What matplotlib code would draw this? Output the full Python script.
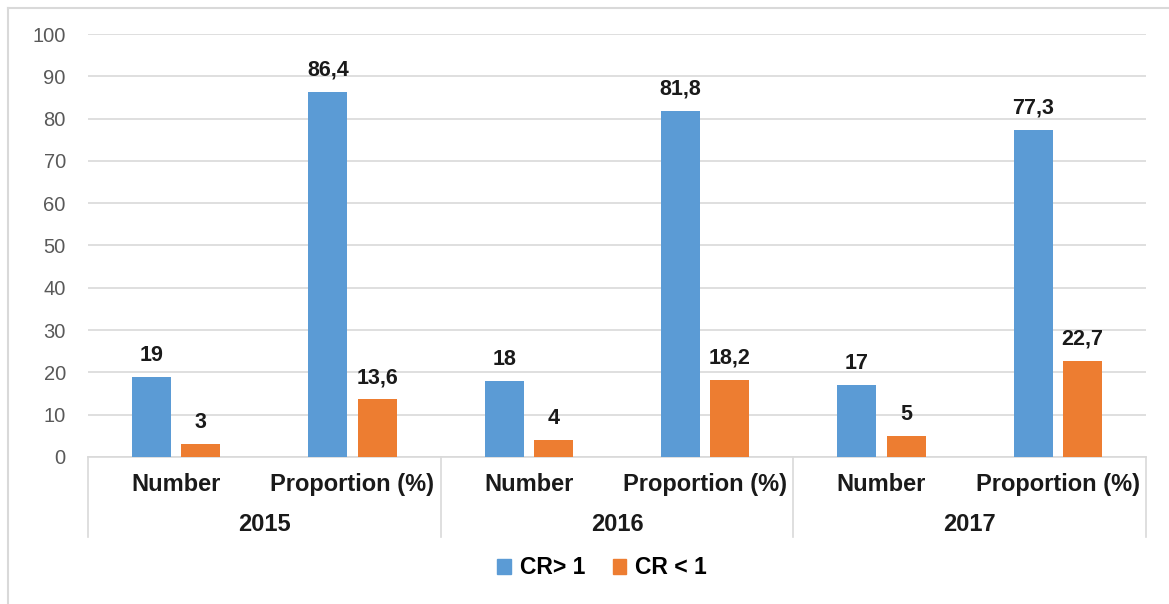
import matplotlib
matplotlib.use('Agg')
import matplotlib.pyplot as plt
from matplotlib.lines import Line2D
from matplotlib.patches import Patch

plt.rcParams['font.family'] = ['Liberation Sans', 'DejaVu Sans']

years = ['2015', '2016', '2017']
measures = ['Number', 'Proportion (%)']
cr_above = [19, 86.4, 18, 81.8, 17, 77.3]
cr_below = [3, 13.6, 4, 18.2, 5, 22.7]
series_names = ['CR> 1', 'CR < 1']

BLUE = '#5B9BD5'
ORANGE = '#ED7D31'
GRID = '#D9D9D9'


def lab(v):
    return ('%g' % v).replace('.', ',')


W, H = 1169, 604
fig = plt.figure(figsize=(W / 100, H / 100), dpi=100)
ax = fig.add_axes([88 / W, 147 / H, (1146 - 88) / W, 423 / H])

x = list(range(len(cr_above)))
bw = 0.222
off = 0.14
b1 = ax.bar([i - off for i in x], cr_above, bw, color=BLUE, zorder=3)
b2 = ax.bar([i + off for i in x], cr_below, bw, color=ORANGE, zorder=3)
ax.bar_label(b1, labels=[lab(v) for v in cr_above], padding=8,
             fontsize=15.5, fontweight='bold', color='#1a1a1a')
ax.bar_label(b2, labels=[lab(v) for v in cr_below], padding=8,
             fontsize=15.5, fontweight='bold', color='#1a1a1a')

ax.set_xlim(-0.5, len(x) - 0.5)
ax.set_ylim(0, 100)
ax.set_yticks(range(0, 101, 10))
ax.tick_params(axis='y', length=0, pad=16, labelsize=14.5, labelcolor='#595959')
ax.set_xticks([])
ax.yaxis.grid(True, color=GRID, lw=1.2)
ax.set_axisbelow(True)
for s in ['left', 'right', 'top']:
    ax.spines[s].set_visible(False)
ax.spines['bottom'].set_color(GRID)
ax.spines['bottom'].set_linewidth(1.2)

# two-level category axis
tr = ax.get_xaxis_transform()
for i in x:
    ax.text(i, -0.064, measures[i % 2], transform=tr, ha='center', va='center',
            fontsize=17, fontweight='bold', color='#1a1a1a')
for g, yr in enumerate(years):
    ax.text(2 * g + 0.5, -0.16, yr, transform=tr, ha='center', va='center',
            fontsize=17, fontweight='bold', color='#1a1a1a')
for g in range(len(years) + 1):
    ax.add_line(Line2D([2 * g - 0.5] * 2, [0, -0.189], transform=tr,
                       color=GRID, lw=1.2, clip_on=False))

fig.legend(handles=[Patch(color=BLUE), Patch(color=ORANGE)], labels=series_names,
           loc='center', bbox_to_anchor=(602 / W, 1 - 568 / H), ncol=2,
           frameon=False, handlelength=0.6, handleheight=0.6, handletextpad=0.4,
           columnspacing=1.2, prop={'weight': 'bold', 'size': 16.5})

# chart border
fig.add_artist(Line2D([8 / W, 8 / W], [0, 1 - 8 / H], color=GRID, lw=1.5))
fig.add_artist(Line2D([8 / W, 1], [1 - 8 / H, 1 - 8 / H], color=GRID, lw=1.5))

fig.savefig('out.png', dpi=100)
